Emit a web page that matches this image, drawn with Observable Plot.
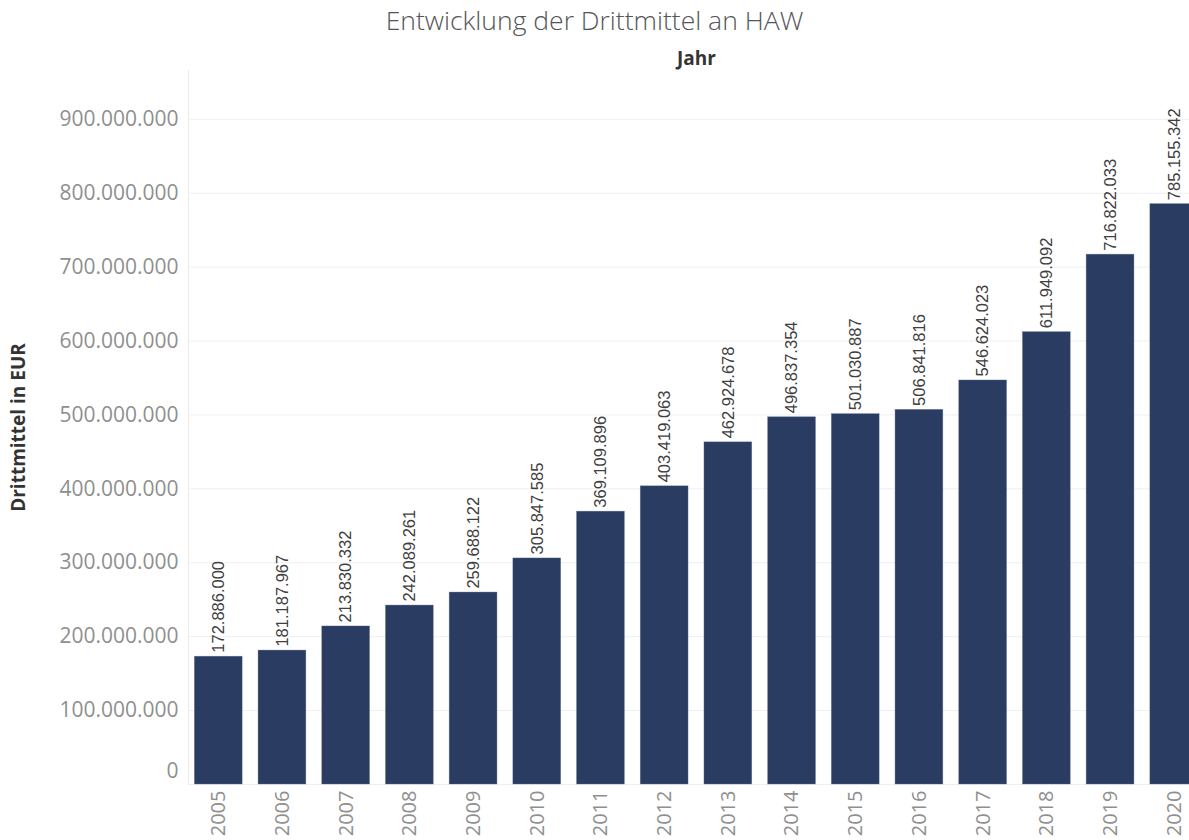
<!DOCTYPE html>
<html>
<head>
<meta charset="utf-8">
<script src="https://cdn.jsdelivr.net/npm/d3@7"></script>
<script src="https://cdn.jsdelivr.net/npm/@observablehq/plot@0.6"></script>
<style>
  html, body { margin: 0; padding: 0; background: #fff; overflow: hidden; width: 1189px; height: 840px; }
  #title { height: 40px; width: 1189px; text-align: center; font-family: "Open Sans", sans-serif; font-weight: 300; font-size: 26.5px; color: #555; line-height: 40px; white-space: nowrap; }
  #chart { width: 1204px; }
  #chart svg { display: block; max-width: none !important; }
</style>
</head>
<body>
<div id="title">Entwicklung der Drittmittel an HAW</div>
<div id="chart"></div>
<script>
const years = ["2005","2006","2007","2008","2009","2010","2011","2012","2013","2014","2015","2016","2017","2018","2019","2020"];
const drittmittel = [172886000, 181187967, 213830332, 242089261, 259688122, 305847585, 369109896, 403419063, 462924678, 496837354, 501030887, 506841816, 546624023, 611949092, 716822033, 785155342];
const yTicks = [0, 100000000, 200000000, 300000000, 400000000, 500000000, 600000000, 700000000, 800000000, 900000000];

const data = years.map((y, i) => ({year: y, value: drittmittel[i]}));
const de = d3.formatLocale({decimal: ",", thousands: ".", grouping: [3], currency: ["", " €"]});
const fmt = de.format(",d");

const chart = Plot.plot({
  width: 1204,
  height: 800,
  marginLeft: 188,
  marginRight: 0,
  marginTop: 30,
  marginBottom: 56,
  style: {fontFamily: "Open Sans, sans-serif", background: "#fff"},
  x: {domain: years, paddingInner: 0.25, paddingOuter: 0.1, round: false, label: null},
  y: {domain: [0, 966000000], label: null},
  marks: [
    Plot.gridY(yTicks, {stroke: "#efefef", strokeOpacity: 1}),
    Plot.frame({anchor: "left", stroke: "#ebebeb"}),
    Plot.barY(data, {x: "year", y: "value", fill: "#2b3c62", stroke: "#5a6a8c", strokeWidth: 0.6, strokeOpacity: 0.6}),
    Plot.text(data, {x: "year", y: "value", text: d => fmt(d.value), rotate: -90, textAnchor: "start", dy: -4, fontSize: 16.5, fill: "#404040", fontFamily: "Liberation Sans, Arial, sans-serif"}),
    Plot.axisY(yTicks.filter(t => t > 0), {tickSize: 0, tickPadding: 10, tickFormat: fmt, fontSize: 21, fill: "#8f8f8f", label: null}),
    Plot.axisY([0], {tickSize: 0, tickPadding: 10, tickFormat: fmt, fontSize: 21, fill: "#8f8f8f", label: null, dy: -13}),
    Plot.axisX({tickSize: 0, tickRotate: -90, tickPadding: 6, fontSize: 20, fill: "#8f8f8f", label: null}),
    Plot.text(["Jahr"], {frameAnchor: "top", dy: -6, lineAnchor: "bottom", fontSize: 19, fontWeight: "bold", fill: "#333"}),
    Plot.text(["Drittmittel in EUR"], {frameAnchor: "left", textAnchor: "middle", dx: -170, rotate: -90, fontSize: 19, fontWeight: "bold", fill: "#333"})
  ]
});
document.getElementById("chart").appendChild(chart);
</script>
</body>
</html>
